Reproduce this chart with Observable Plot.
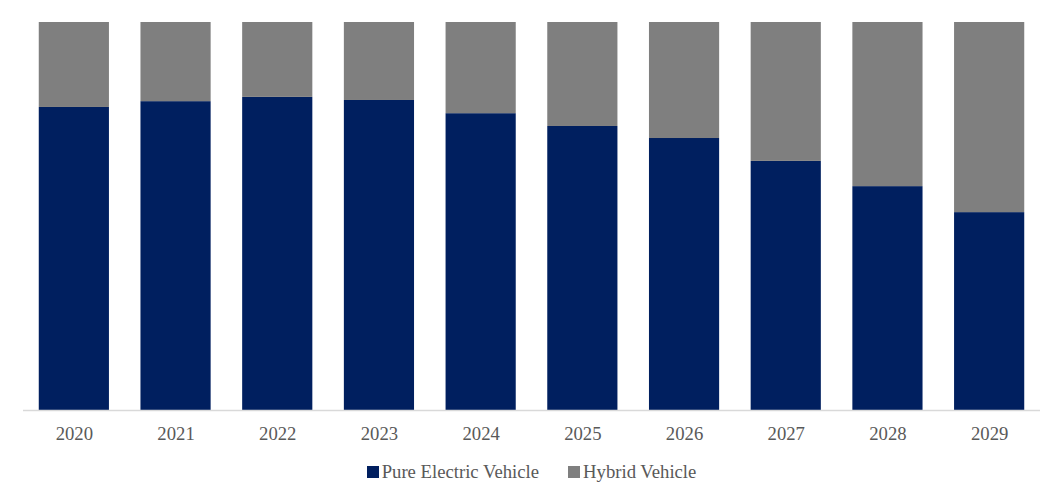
<!DOCTYPE html>
<html>
<head>
<meta charset="utf-8">
<script src="https://cdn.jsdelivr.net/npm/d3@7"></script>
<script src="https://cdn.jsdelivr.net/npm/@observablehq/plot@0.6"></script>
<style>
  html, body { margin: 0; padding: 0; background: #fff; }
  #chart { width: 1063px; }
  .legend { display: flex; justify-content: center; align-items: center; gap: 29px;
    font-family: 'Liberation Serif', 'Times New Roman', serif; font-size: 18.7px; color: #595959;
    margin-top: 11px; }
  .legend span.item { display: flex; align-items: center; }
  .legend i { display: inline-block; width: 12px; height: 12px; margin-right: 3px; }
</style>
</head>
<body>
<div id="chart"></div>
<script>
const years = ["2020","2021","2022","2023","2024","2025","2026","2027","2028","2029"];
const pureElectric = [78.1, 79.6, 80.7, 79.9, 76.5, 73.2, 70.1, 64.2, 57.7, 51.0];
const hybrid = [21.9, 20.4, 19.3, 20.1, 23.5, 26.8, 29.9, 35.8, 42.3, 49.0];
const seriesNames = ["Pure Electric Vehicle", "Hybrid Vehicle"];
const seriesColors = ["#001f5f", "#7f7f7f"];

const rows = [];
years.forEach((y, i) => rows.push({year: y, series: seriesNames[0], value: pureElectric[i]}));
years.forEach((y, i) => rows.push({year: y, series: seriesNames[1], value: hybrid[i]}));

const plot = Plot.plot({
  width: 1063,
  height: 450,
  marginTop: 22,
  marginBottom: 40,
  marginLeft: 23,
  marginRight: 23,
  style: {fontFamily: "'Liberation Serif', 'Times New Roman', serif", fontSize: "18.7px", color: "#595959", background: "#fff"},
  x: {domain: years, paddingInner: 0.31, paddingOuter: 0.155, round: false, label: null, tickSize: 0, tickPadding: 16},
  y: {domain: [0, 100], axis: null},
  color: {domain: seriesNames, range: seriesColors},
  marks: [
    Plot.barY(rows, {x: "year", y: "value", fill: "series", order: seriesNames}),
    Plot.ruleY([0], {stroke: "#d9d9d9", strokeWidth: 1.5})
  ]
});
document.getElementById("chart").appendChild(plot);

const legend = document.createElement("div");
legend.className = "legend";
seriesNames.forEach((n, i) => {
  const s = document.createElement("span");
  s.className = "item";
  const sw = document.createElement("i");
  sw.style.background = seriesColors[i];
  s.appendChild(sw);
  s.appendChild(document.createTextNode(n));
  legend.appendChild(s);
});
document.getElementById("chart").appendChild(legend);
</script>
</body>
</html>
